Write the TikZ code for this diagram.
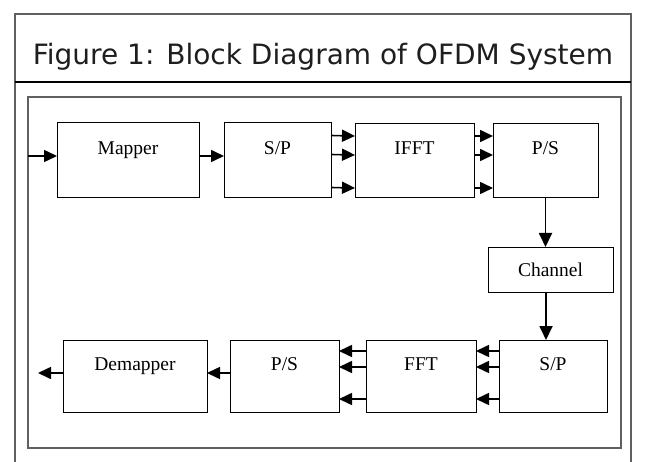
\documentclass[tikz,border=0pt]{standalone}
\usepackage{fontspec}
\setmainfont{Liberation Serif}
\newfontfamily\headfont{DejaVu Sans}
\usetikzlibrary{positioning, arrows.meta}
\definecolor{framegray}{RGB}{96,96,96}
\definecolor{headgray}{RGB}{30,30,30}

\tikzset{
	blk/.style={draw, line width=1pt, inner sep=0pt, outer sep=0pt, font=\fontsize{19.5}{22}\selectfont, text height=14pt, text depth=26pt},
	arr/.style={line width=1.6pt, -{Triangle[length=13pt, width=12pt]}},
	varr/.style={line width=1.8pt, -{Triangle[length=14pt, width=13pt]}}
}

\begin{document}
\begin{tikzpicture}[x=1pt, y=-1pt]
\useasboundingbox (0,0) rectangle (647,462);

%----------FRAME-------------%
\draw[framegray, line width=1.5pt] (15,470) -- (15,14) -- (631,14) -- (631,470);
\draw[line width=2pt] (15,82) -- (631,82);
\draw[framegray, line width=2pt] (28,97) rectangle (621,448);

\draw (323,65) node [anchor=base, headgray, font=\headfont\fontsize{28}{30}\selectfont] (title) {Figure 1: Block Diagram of OFDM System};

%----------TRANSMITTER-------------%
\draw (128,160.5) node [blk, minimum width=142, minimum height=75] (mapper) {Mapper};
\draw (277.5,160.5) node [blk, minimum width=107, minimum height=75] (sp1) {S/P};
\draw (414.5,161) node [blk, minimum width=119, minimum height=74] (ifft) {IFFT};
\draw (545.5,161) node [blk, minimum width=105, minimum height=74] (ps1) {P/S};

\draw (550.5,269.5) node [blk, minimum width=125, minimum height=45, text height=13pt, text depth=0pt] (chan) {Channel};

%----------RECEIVER-------------%
\draw (553,376) node [blk, minimum width=108, minimum height=72] (sp2) {S/P};
\draw (421,376) node [blk, minimum width=110, minimum height=72] (fft) {FFT};
\draw (284.5,376) node [blk, minimum width=109, minimum height=72] (ps2) {P/S};
\draw (135,376) node [blk, minimum width=144, minimum height=72] (demap) {Demapper};

\coordinate (src) at (28,156);
\coordinate (sink) at (38,373);

%----------LINKS-------------%
\draw[arr] (src) -- (src -| mapper.west);
\draw[arr] (mapper.east |- src) -- (sp1.west |- src);

\foreach \d in {25,6,-27}{
	\draw[arr] ([yshift=\d pt]sp1.east) -- ([yshift=\d pt]ifft.west);
	\draw[arr] ([yshift=\d pt]ifft.east) -- ([yshift=\d pt]ps1.west);
};

\draw[varr] (ps1.south) -- (ps1.south |- chan.north);
\draw[varr] ([xshift=-4.5pt]chan.south) -- ([xshift=-4.5pt]chan.south |- sp2.north);

\foreach \d in {25,9,-23}{
	\draw[arr] ([yshift=\d pt]sp2.west) -- ([yshift=\d pt]fft.east);
	\draw[arr] ([yshift=\d pt]fft.west) -- ([yshift=\d pt]ps2.east);
};

\draw[arr] ([yshift=3pt]ps2.west) -- ([yshift=3pt]demap.east);
\draw[arr] (demap.west |- sink) -- (sink);

\end{tikzpicture}
\end{document}
